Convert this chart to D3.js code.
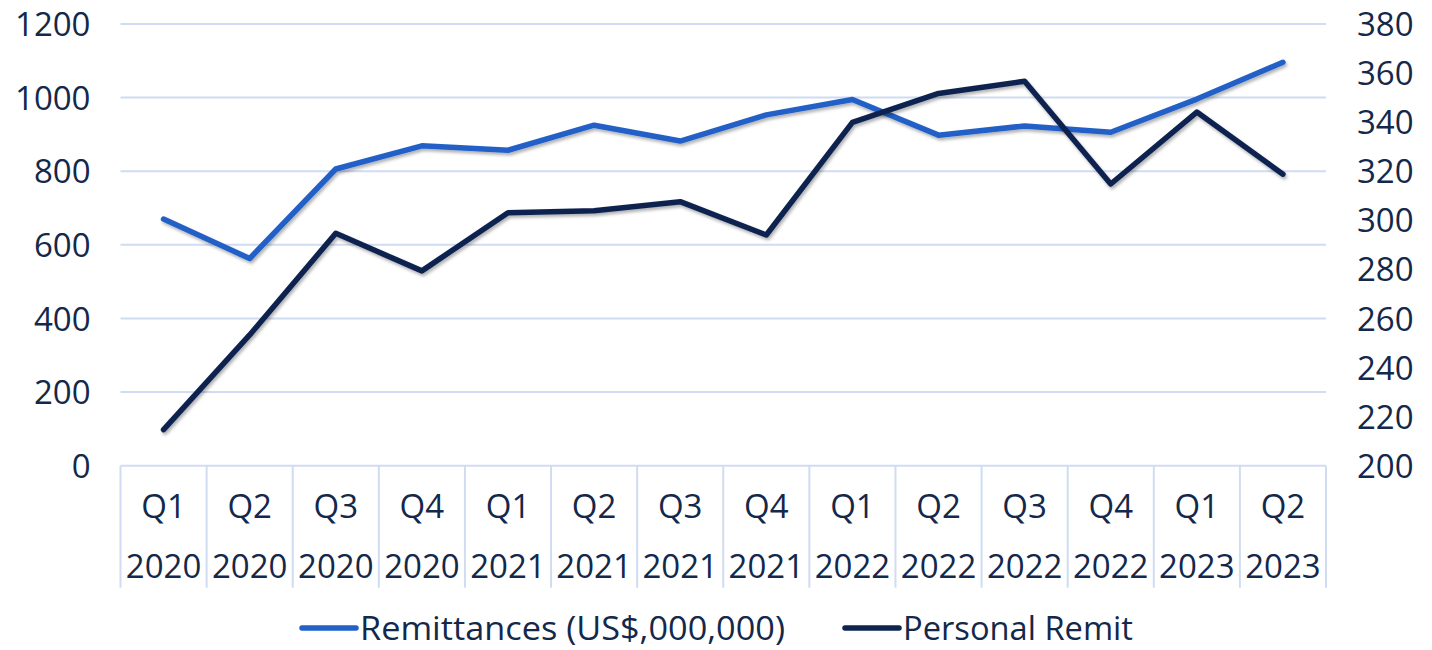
<!DOCTYPE html>
<html lang="en">
<head>
<meta charset="UTF-8">
<title>Remittances</title>
<script src="https://d3js.org/d3.v7.min.js"></script>
<style>
    body { margin: 0; background: #fff; }
    text { font-family: "Open Sans", sans-serif; fill: #13284a; }
</style>
</head>
<body>
<div id="chart"></div>
<script>
    // data
    const quarters = ["Q1", "Q2", "Q3", "Q4", "Q1", "Q2", "Q3", "Q4", "Q1", "Q2", "Q3", "Q4", "Q1", "Q2"];
    const years = ["2020", "2020", "2020", "2020", "2021", "2021", "2021", "2021", "2022", "2022", "2022", "2022", "2023", "2023"];
    const remittances = [670, 563, 806, 869, 857, 925, 882, 953, 995, 898, 923, 906, 996, 1096];
    const personalRemit = [214.7, 253.3, 294.7, 279.4, 303.1, 303.9, 307.6, 294.0, 339.9, 351.7, 356.7, 314.8, 344.1, 318.8];
    const leftTicks = [0, 200, 400, 600, 800, 1000, 1200];
    const rightTicks = [200, 220, 240, 260, 280, 300, 320, 340, 360, 380];

    const W = 1432, H = 650;
    const margin = { top: 24, right: 106, bottom: 184.3, left: 120.5 };
    const width = W - margin.left - margin.right;
    const height = H - margin.top - margin.bottom;

    const svg = d3.select("#chart").append("svg").attr("width", W).attr("height", H);

    const defs = svg.append("defs");
    const f = defs.append("filter").attr("id", "shadow")
        .attr("x", "-5%").attr("y", "-5%").attr("width", "110%").attr("height", "120%");
    f.append("feDropShadow").attr("dx", 1.5).attr("dy", 2.5).attr("stdDeviation", 1.6)
        .attr("flood-color", "#000").attr("flood-opacity", 0.3);

    const g = svg.append("g").attr("transform", `translate(${margin.left},${margin.top})`);

    const idx = d3.range(quarters.length);
    const x = d3.scaleBand().domain(idx).range([0, width]);
    const yL = d3.scaleLinear().domain([0, 1200]).range([height, 0]);
    const yR = d3.scaleLinear().domain([200, 380]).range([height, 0]);

    const gridColor = "#cfdcf2";

    // gridlines
    g.selectAll(".grid").data(leftTicks.filter(d => d > 0)).enter().append("line")
        .attr("x1", 0).attr("x2", width)
        .attr("y1", d => yL(d)).attr("y2", d => yL(d))
        .attr("stroke", gridColor).attr("stroke-width", 2);

    // left axis
    g.append("g").call(d3.axisLeft(yL).tickValues(leftTicks).tickFormat(d3.format("d")).tickSize(0).tickPadding(30))
        .call(a => a.select(".domain").remove())
        .selectAll("text").style("font-size", "33px").attr("fill", "#13284a").attr("dy", "0.35em");

    // right axis
    g.append("g").attr("transform", `translate(${width},0)`)
        .call(d3.axisRight(yR).tickValues(rightTicks).tickFormat(d3.format("d")).tickSize(0).tickPadding(31))
        .call(a => a.select(".domain").remove())
        .selectAll("text").style("font-size", "33px").attr("fill", "#13284a").attr("dy", "0.35em");

    // category axis: baseline + dividers
    const catH = 122;
    g.append("line").attr("x1", 0).attr("x2", width).attr("y1", height).attr("y2", height)
        .attr("stroke", gridColor).attr("stroke-width", 2);
    g.selectAll(".div").data(d3.range(quarters.length + 1)).enter().append("line")
        .attr("x1", d => d === quarters.length ? width : x(d))
        .attr("x2", d => d === quarters.length ? width : x(d))
        .attr("y1", height).attr("y2", height + catH)
        .attr("stroke", gridColor).attr("stroke-width", 2);

    const cat = g.selectAll(".cat").data(idx).enter().append("g")
        .attr("transform", d => `translate(${x(d) + x.bandwidth() / 2},${height})`);
    cat.append("text").attr("text-anchor", "middle").attr("y", 52).style("font-size", "33px")
        .text(d => quarters[d]);
    cat.append("text").attr("text-anchor", "middle").attr("y", 112).style("font-size", "33px")
        .text(d => years[d]);

    // lines
    const lineL = d3.line().x(d => x(d) + x.bandwidth() / 2).y(d => yL(remittances[d]));
    const lineR = d3.line().x(d => x(d) + x.bandwidth() / 2).y(d => yR(personalRemit[d]));

    g.append("path").datum(idx).attr("d", lineL)
        .attr("fill", "none").attr("stroke", "#2161c8").attr("stroke-width", 5.5)
        .attr("stroke-linecap", "round").attr("stroke-linejoin", "round")
        .attr("filter", "url(#shadow)");
    g.append("path").datum(idx).attr("d", lineR)
        .attr("fill", "none").attr("stroke", "#0f2450").attr("stroke-width", 5.5)
        .attr("stroke-linecap", "round").attr("stroke-linejoin", "round")
        .attr("filter", "url(#shadow)");

    // legend
    const legend = [
        { label: "Remittances (US$,000,000)", color: "#2161c8", x: 302, len: 425 },
        { label: "Personal Remit", color: "#0f2450", x: 845, len: 230 }
    ];
    const lg = svg.selectAll(".legend").data(legend).enter().append("g")
        .attr("transform", d => `translate(${d.x},628)`);
    lg.append("line").attr("x1", 0).attr("x2", 54).attr("stroke", d => d.color)
        .attr("stroke-width", 5.5).attr("stroke-linecap", "round");
    lg.append("text").attr("x", 58).attr("y", 12).style("font-size", "33px")
        .attr("textLength", d => d.len).attr("lengthAdjust", "spacingAndGlyphs")
        .text(d => d.label);
</script>
</body>
</html>
